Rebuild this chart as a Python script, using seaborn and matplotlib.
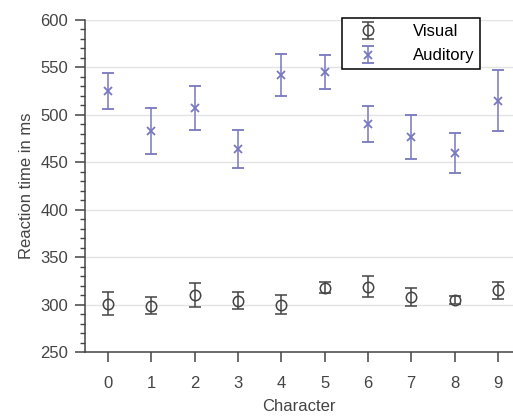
import numpy as np
import matplotlib
matplotlib.use("Agg")
import matplotlib.pyplot as plt
import seaborn as sns
from matplotlib.ticker import MultipleLocator

# data
characters = [0, 1, 2, 3, 4, 5, 6, 7, 8, 9]
visual_mean = [301, 299, 310, 304, 300, 318, 319, 308, 305, 315]
visual_err = [12, 9, 13, 9, 10, 6, 11, 10, 4, 9]
auditory_mean = [525, 483, 507, 464, 542, 545, 490, 477, 460, 515]
auditory_err = [19, 24, 23, 20, 22, 18, 19, 23, 21, 32]

sns.set_style("ticks")
plt.rcParams['font.family'] = ['Liberation Sans', 'DejaVu Sans']

fig = plt.figure(figsize=(5.13, 4.16), dpi=100)
ax = fig.add_axes([0.1657, 0.1538, 0.8343, 0.7981])

vis_color = "#444444"
aud_color = "#7878c0"

ax.errorbar(characters, visual_mean, yerr=visual_err, fmt='o', mfc='none',
            color=vis_color, ms=7.5, mew=1.1, elinewidth=1.1, capsize=4.5,
            capthick=1.1, label="Visual", zorder=3)
ax.errorbar(characters, auditory_mean, yerr=auditory_err, fmt='x',
            color=aud_color, ms=6, mew=1.3, elinewidth=1.1, capsize=4.5,
            capthick=1.1, label="Auditory", zorder=3)

ax.set_xlim(-0.53, 9.35)
ax.set_ylim(250, 600)
ax.set_xticks(characters)
ax.yaxis.set_major_locator(MultipleLocator(50))
ax.yaxis.set_minor_locator(MultipleLocator(10))
ax.yaxis.grid(True, which='major', color="#e3e3e3", lw=1)
ax.set_axisbelow(True)

sns.despine(ax=ax)
for s in ["left", "bottom"]:
    ax.spines[s].set_color("#444444")
    ax.spines[s].set_linewidth(1.1)
ax.tick_params(axis='both', which='major', length=7, width=1.1, color="#444444",
               labelsize=12, labelcolor="#444444", pad=5)
ax.tick_params(axis='x', which='major', pad=10)
ax.tick_params(axis='y', which='minor', length=3.5, width=1.0, color="#444444")

ax.set_xlabel("Character", fontsize=12, color="#444444", labelpad=6)
ax.set_ylabel("Reaction time in ms", fontsize=12, color="#444444", labelpad=5)

leg = ax.legend(loc='upper left', bbox_to_anchor=(0.6, 1.005), fontsize=12,
                frameon=True, fancybox=False, handletextpad=1.5,
                borderpad=0.35, labelspacing=0.55, handlelength=2.4,
                borderaxespad=0, labelcolor="black")
leg.get_frame().set_edgecolor("black")
leg.get_frame().set_linewidth(1.1)
leg.get_frame().set_alpha(1)

fig.savefig("out.png", dpi=100)
